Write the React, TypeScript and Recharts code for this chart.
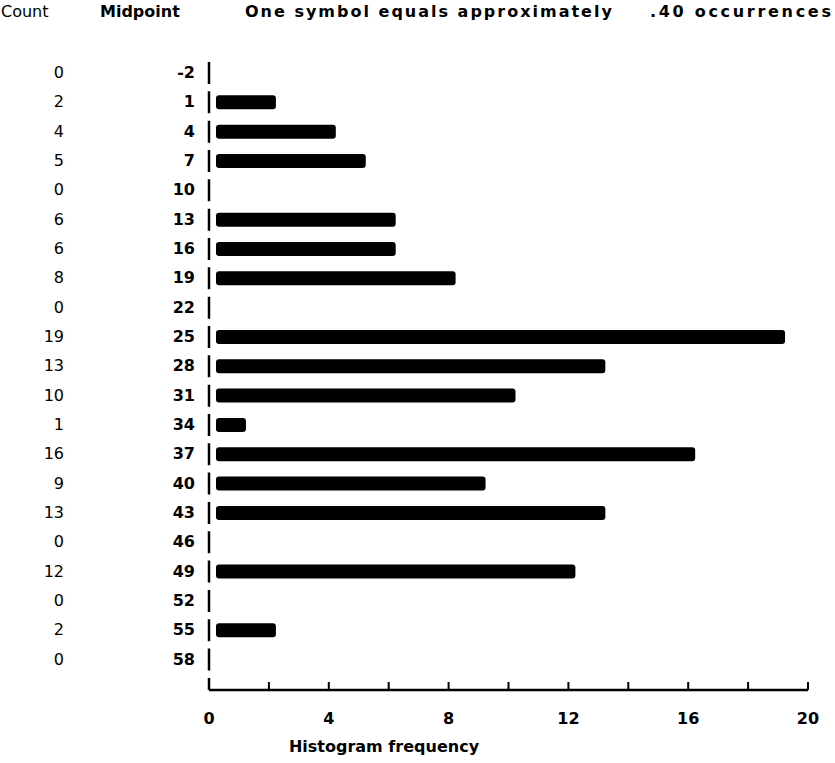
import React from 'react';
import { BarChart, Bar, XAxis, YAxis, Rectangle } from 'recharts';

// histogram bins (midpoints) and the count in each bin
const midpoints = [-2, 1, 4, 7, 10, 13, 16, 19, 22, 25, 28, 31, 34, 37, 40, 43, 46, 49, 52, 55, 58];
const counts = [0, 2, 4, 5, 0, 6, 6, 8, 0, 19, 13, 10, 1, 16, 9, 13, 0, 12, 0, 2, 0];
const freqTicks = [0, 2, 4, 6, 8, 10, 12, 14, 16, 18, 20];
const freqLabels = [0, 4, 8, 12, 16, 20];

const data = midpoints.map((m, i) => ({ idx: i, midpoint: m, count: counts[i] }));
const rowTicks = data.map((d) => d.idx);

const FONT = '"DejaVu Sans", sans-serif';

const RowTick = (props: any) => {
  const { x, y, payload } = props;
  const i = payload.value;
  return (
    <g>
      <text x={64} y={y} textAnchor="end" dominantBaseline="central" fontFamily={FONT} fontSize={16} fill="#000">
        {counts[i]}
      </text>
      <text x={x - 14} y={y} textAnchor="end" dominantBaseline="central" fontFamily={FONT} fontSize={16} fontWeight="bold" fill="#000">
        {midpoints[i]}
      </text>
    </g>
  );
};

const FreqTick = (props: any) => {
  const { x, y, payload } = props;
  const v = payload.value;
  return (
    <g>
      <line x1={x} x2={x} y1={y} y2={y - 8} stroke="#000" strokeWidth={2} />
      {freqLabels.includes(v) && (
        <text x={x} y={y + 28} textAnchor="middle" dominantBaseline="central" fontFamily={FONT} fontSize={16} fontWeight="bold" fill="#000">
          {v}
        </text>
      )}
    </g>
  );
};

// bars sit a few pixels right of the axis line, like the printout
const HistBar = (props: any) => {
  const { x, y, width, height } = props;
  if (!width) return null;
  return <Rectangle x={x + 7} y={y} width={width} height={height} radius={3} fill="#000" />;
};

const App: React.FC = () => {
  return (
    <div style={{ position: 'absolute', left: 0, top: 0, width: 835, height: 763, background: '#fff' }}>
      <BarChart
        width={835}
        height={763}
        data={data}
        layout="vertical"
        margin={{ top: 58, right: 27, left: 0, bottom: 0 }}
      >
        <XAxis
          type="number"
          domain={[0, 20]}
          ticks={freqTicks}
          interval={0}
          height={73}
          tickLine={false}
          tickSize={0}
          tickMargin={0}
          axisLine={{ stroke: '#000', strokeWidth: 2.5 }}
          tick={<FreqTick />}
        />
        <YAxis
          type="number"
          dataKey="idx"
          domain={[-0.5, 21.05]}
          allowDataOverflow
          ticks={rowTicks}
          interval={0}
          width={209}
          tickLine={false}
          tickSize={0}
          tickMargin={0}
          axisLine={{ stroke: '#000', strokeWidth: 2.5, strokeDasharray: '0 4 22 3.33' }}
          tick={<RowTick />}
        />
        <Bar dataKey="count" barSize={14} shape={<HistBar />} isAnimationActive={false} />
      </BarChart>
      <svg width={835} height={763} style={{ position: 'absolute', left: 0, top: 0, pointerEvents: 'none' }}>
        <g fontFamily={FONT} fontSize={16} fill="#000">
          <text x={1} y={11} dominantBaseline="central">Count</text>
          <text x={100} y={11} dominantBaseline="central" fontWeight="bold">Midpoint</text>
          <text x={245} y={11} dominantBaseline="central" fontWeight="bold" letterSpacing={2}>One symbol equals approximately</text>
          <text x={650} y={11} dominantBaseline="central" fontWeight="bold" letterSpacing={2.7}>.40 occurrences</text>
          <text x={384} y={746} dominantBaseline="central" textAnchor="middle" fontWeight="bold">Histogram frequency</text>
        </g>
      </svg>
    </div>
  );
};

export default App;
